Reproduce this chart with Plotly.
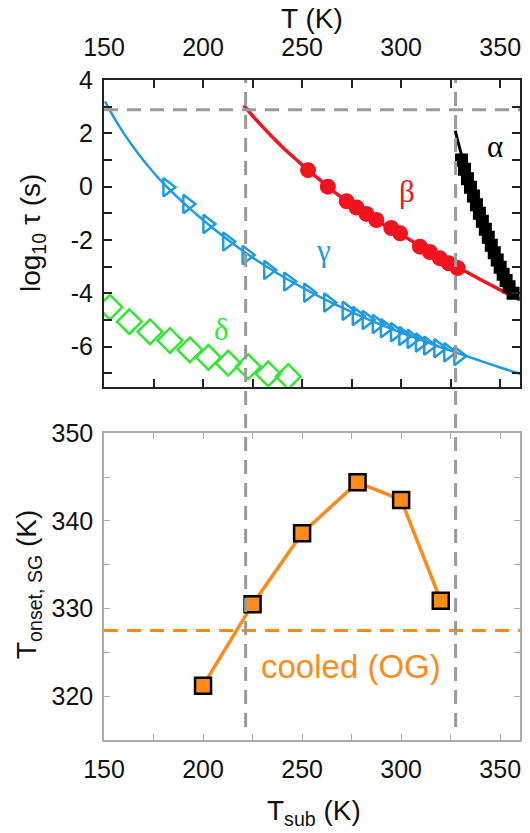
import plotly.graph_objects as go

# ---------------- data ----------------
# top panel: log10 tau vs T
gamma_T = [182.0, 192.1, 202.2, 212.2, 222.0, 232.9, 243.0, 253.1, 263.2,
           272.5, 277.6, 282.6, 287.7, 291.8, 296.9, 301.1, 305.3, 309.5, 313.7, 318.8, 323.8, 328.9]
gamma_y = [-0.02, -0.65, -1.40, -2.06, -2.56, -3.12, -3.56, -3.98, -4.34,
           -4.65, -4.85, -5.00, -5.15, -5.31, -5.46, -5.60, -5.71, -5.84, -5.96, -6.06, -6.21, -6.35]
gamma_fit_T = [150.5, 155, 160, 165, 170, 175, 180, 190, 200, 210, 220, 230, 240, 250,
               260, 270, 280, 290, 300, 310, 320, 330, 340, 350, 360]
gamma_fit_y = [3.2, 2.6, 2.0, 1.47, 0.98, 0.53, 0.12, -0.6, -1.25, -1.85, -2.4, -2.9, -3.36, -3.78,
               -4.17, -4.53, -4.87, -5.18, -5.47, -5.75, -6.02, -6.28, -6.53, -6.78, -7.02]

beta_T = [253.0, 263.0, 272.5, 277.5, 282.5, 287.5, 295.0, 299.5, 309.5, 314.5, 319.5, 324.0, 328.5]
beta_y = [0.62, 0.0, -0.55, -0.78, -1.02, -1.25, -1.55, -1.75, -2.25, -2.45, -2.68, -2.87, -3.05]
beta_fit_T = [220.5, 225, 230, 235, 240, 245, 250, 255, 260, 265, 270, 275, 280, 285, 290, 295,
              300, 305, 310, 315, 320, 325, 330, 340, 350, 360]
beta_fit_y = [3.05, 2.66, 2.25, 1.86, 1.49, 1.15, 0.82, 0.5, 0.19, -0.12, -0.41, -0.68, -0.92, -1.15,
              -1.37, -1.58, -1.8, -2.02, -2.24, -2.45, -2.66, -2.87, -3.08, -3.48, -3.87, -4.25]

alpha_T = [330.5, 332, 333.5, 335, 336.5, 338, 339.5, 341, 342.5, 344, 345.5, 347, 348.5, 350,
           351.5, 353, 354.5, 356.5]
alpha_y = [1.0, 0.65, 0.3, -0.02, -0.35, -0.68, -1.0, -1.3, -1.6, -1.9, -2.2, -2.48, -2.75, -3.02,
           -3.28, -3.52, -3.75, -4.0]
alpha_fit_T = [327.3, 329, 331, 335, 340, 345, 350, 355, 357.5]
alpha_fit_y = [2.1, 1.6, 1.05, 0.0, -1.15, -2.1, -3.0, -3.8, -4.1]

delta_T = [153.0, 162.8, 173.2, 183.3, 193.4, 202.7, 212.7, 222.8, 232.9, 243.0]
delta_y = [-4.52, -5.06, -5.44, -5.77, -6.12, -6.40, -6.62, -6.75, -7.02, -7.12]

tau_ref = 2.88            # horizontal dashed line (log10 tau)
T_marks = [221.5, 327.5]  # vertical dashed lines (K)

# bottom panel: T_onset vs T_sub
Tsub = [200, 225, 250, 278, 300, 320]
Tonset = [321.2, 330.5, 338.6, 344.4, 342.4, 330.9]
T_cooled = 327.5

# ticks
x_ticks = [150, 175, 200, 225, 250, 275, 300, 325, 350]
x_labels = ['150', '', '200', '', '250', '', '300', '', '350']
y1_ticks = [-7, -6, -5, -4, -3, -2, -1, 0, 1, 2, 3, 4]
y1_labels = ['', '-6', '', '-4', '', '-2', '', '0', '', '2', '', '4']
y2_ticks = [315, 320, 325, 330, 335, 340, 345, 350]
y2_labels = ['', '320', '', '330', '', '340', '', '350']

# ---------------- styling ----------------
BLUE = '#1E9BE0'
RED = '#F0141E'
GREEN = '#33E633'
ORANGE = '#FF8A1C'
GRAY = '#9A9A9A'
FONT = 'Liberation Sans, Arial, sans-serif'
GREEK = 'Liberation Serif, Times New Roman, serif'

fig = go.Figure()

# top panel
fig.add_trace(go.Scatter(x=gamma_fit_T, y=gamma_fit_y, mode='lines', line=dict(color=BLUE, width=2.5, shape='spline'),
                         xaxis='x', yaxis='y', showlegend=False))
fig.add_trace(go.Scatter(x=beta_fit_T, y=beta_fit_y, mode='lines', line=dict(color=RED, width=3.5, shape='spline'),
                         xaxis='x', yaxis='y', showlegend=False))
fig.add_trace(go.Scatter(x=alpha_fit_T, y=alpha_fit_y, mode='lines', line=dict(color='black', width=3, shape='spline'),
                         xaxis='x', yaxis='y', showlegend=False))
fig.add_trace(go.Scatter(x=gamma_T, y=gamma_y, mode='markers',
                         marker=dict(symbol='triangle-right-open', size=16, color=BLUE, line=dict(width=2.5, color=BLUE)),
                         xaxis='x', yaxis='y', showlegend=False))
fig.add_trace(go.Scatter(x=beta_T, y=beta_y, mode='markers',
                         marker=dict(symbol='circle', size=16, color=RED, line=dict(width=0)),
                         xaxis='x', yaxis='y', showlegend=False))
fig.add_trace(go.Scatter(x=alpha_T, y=alpha_y, mode='markers',
                         marker=dict(symbol='square', size=13, color='black', line=dict(width=0)),
                         xaxis='x', yaxis='y', showlegend=False))
fig.add_trace(go.Scatter(x=delta_T, y=delta_y, mode='markers',
                         marker=dict(symbol='diamond-open', size=19, color=GREEN, line=dict(width=2.5, color=GREEN)),
                         xaxis='x', yaxis='y', showlegend=False))

# bottom panel
fig.add_trace(go.Scatter(x=[150, 360], y=[T_cooled, T_cooled], mode='lines',
                         line=dict(color=ORANGE, width=3, dash='14px,9px'),
                         xaxis='x2', yaxis='y2', showlegend=False, cliponaxis=False))
fig.add_trace(go.Scatter(x=Tsub, y=Tonset, mode='lines+markers',
                         line=dict(color=ORANGE, width=3.5),
                         marker=dict(symbol='square', size=16, color=ORANGE, line=dict(width=2.5, color='black')),
                         xaxis='x2', yaxis='y2', showlegend=False))

# dashed guide lines
fig.add_shape(type='line', xref='x', yref='y', x0=150, x1=360, y0=tau_ref, y1=tau_ref,
              line=dict(color=GRAY, width=3, dash='14px,9px'), layer='above')
for tm in T_marks:
    fig.add_shape(type='line', xref='x', yref='paper', x0=tm, x1=tm, y0=1 - 727 / 833, y1=1 - 80 / 833,
                  line=dict(color=GRAY, width=3, dash='14px,9px'), layer='above')

# labels
def greek(txt, x, y, color):
    fig.add_annotation(text=txt, x=x, y=y, xref='x', yref='y', showarrow=False,
                       xanchor='center', yanchor='middle',
                       font=dict(family=GREEK, size=31, color=color))

greek('α', 347.4, 1.5, 'black')
greek('β', 302.8, -0.19, RED)
greek('γ', 260.7, -2.38, BLUE)
greek('δ', 209.4, -5.37, GREEN)

fig.add_annotation(text='cooled (OG)', x=274.7, y=323.4, xref='x2', yref='y2', showarrow=False,
                   xanchor='center', yanchor='middle',
                   font=dict(family=FONT, size=33, color=ORANGE))

# axis titles
def title(txt, x, y, angle=0):
    fig.add_annotation(text=txt, x=x / 530, y=1 - y / 833, xref='paper', yref='paper', showarrow=False,
                       xanchor='center', yanchor='middle', textangle=angle,
                       font=dict(family=FONT, size=28, color='#111'))

title('T (K)', 312, 19)
title('T<sub>sub</sub> (K)', 314, 812)
title('log<sub>10</sub> τ (s)', 33, 233, -90)
title('T<sub>onset, SG</sub> (K)', 28, 585, -90)

xdom = [104 / 530, 520 / 530]
tickfont = dict(family=FONT, size=25, color='#111')
common_x = dict(range=[150, 360], tickvals=x_ticks, ticktext=x_labels, ticks='inside', showgrid=False,
                zeroline=False, tickfont=tickfont, showline=True, mirror='ticks', domain=xdom, automargin=False)

fig.update_layout(
    template='none',
    width=530, height=833, margin=dict(l=0, r=0, t=0, b=0, autoexpand=False),
    paper_bgcolor='white', plot_bgcolor='white',
    xaxis=dict(common_x, anchor='y', side='top', linecolor='#222', linewidth=2, tickcolor='#222',
               ticklen=8, tickwidth=1.5, ticklabelstandoff=12),
    yaxis=dict(range=[-7.5, 4], domain=[1 - 386.7 / 833, 1 - 80 / 833], anchor='x', tickvals=y1_ticks,
               ticktext=y1_labels, ticks='inside', ticklen=8, tickwidth=1.5, tickcolor='#222', showgrid=False,
               zeroline=False, tickfont=tickfont, showline=True, mirror='ticks', linecolor='#222', linewidth=2,
               automargin=False, ticklabelstandoff=4),
    xaxis2=dict(common_x, anchor='y2', side='bottom', linecolor='#AAAAAA', linewidth=1.5, tickcolor='#AAAAAA',
                ticklen=6, tickwidth=1.2, ticklabelstandoff=6),
    yaxis2=dict(range=[315, 350], domain=[1 - 740 / 833, 1 - 433.3 / 833], anchor='x2', tickvals=y2_ticks,
                ticktext=y2_labels, ticks='inside', ticklen=6, tickwidth=1.2, tickcolor='#AAAAAA', showgrid=False,
                zeroline=False, tickfont=tickfont, showline=True, mirror='ticks', linecolor='#AAAAAA',
                linewidth=1.5, automargin=False, ticklabelstandoff=4),
)

fig.write_html('out.html')
